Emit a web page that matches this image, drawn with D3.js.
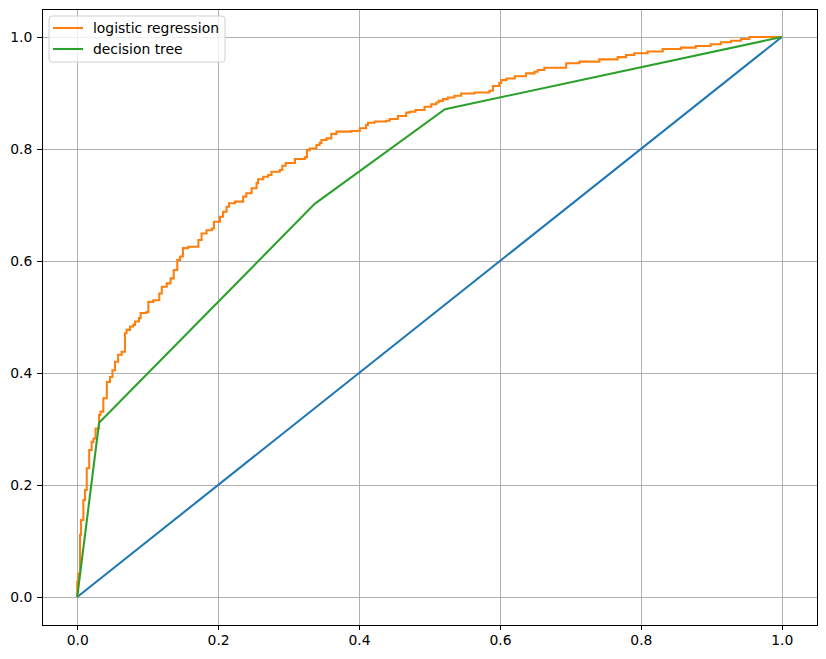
<!DOCTYPE html>
<html>
<head>
<meta charset="utf-8">
<script src="https://cdn.jsdelivr.net/npm/d3@7"></script>
<style>
  body { margin: 0; background: #fff; }
  svg { display: block; font-family: "DejaVu Sans", sans-serif; }
</style>
</head>
<body>
<div id="chart"></div>
<script>
// roc points (tops of each vertical step)
var lrFpr = [0, 0, 0.0016, 0.004, 0.0054, 0.0087, 0.011, 0.0135, 0.017, 0.0205, 0.023, 0.026, 0.031, 0.033, 0.037,
  0.042, 0.0465, 0.05, 0.0536, 0.058, 0.063, 0.0678, 0.070, 0.075, 0.0795, 0.082, 0.0876, 0.090, 0.0985, 0.101,
  0.108, 0.1165, 0.12, 0.127, 0.1325, 0.137, 0.142, 0.146, 0.150, 0.1575, 0.172, 0.1765, 0.1835, 0.191, 0.194,
  0.2025, 0.207, 0.212, 0.2155, 0.2237, 0.2355, 0.240, 0.2475, 0.2545, 0.2567, 0.264, 0.271, 0.2757, 0.2875,
  0.291, 0.296, 0.309, 0.323, 0.326, 0.330, 0.3395, 0.344, 0.3466, 0.3537, 0.3607, 0.368, 0.389, 0.401, 0.410,
  0.4126, 0.422, 0.4387, 0.4434, 0.455, 0.467, 0.4717, 0.480, 0.493, 0.5025, 0.5096, 0.513, 0.519, 0.526, 0.5355,
  0.545, 0.564, 0.585, 0.590, 0.599, 0.6017, 0.609, 0.6135, 0.621, 0.637, 0.649, 0.6536, 0.663, 0.694, 0.7127,
  0.741, 0.767, 0.779, 0.7906, 0.8095, 0.831, 0.857, 0.878, 0.899, 0.9135, 0.928, 0.942, 0.954, 0.970, 1.0];
var lrTpr = [0, 0.027, 0.042, 0.111, 0.1375, 0.173, 0.191, 0.23, 0.2625, 0.277, 0.283, 0.301, 0.325, 0.331, 0.355,
  0.384, 0.393, 0.405, 0.42, 0.4325, 0.438, 0.471, 0.477, 0.483, 0.486, 0.492, 0.498, 0.507, 0.509, 0.527,
  0.530, 0.542, 0.554, 0.560, 0.569, 0.584, 0.602, 0.608, 0.623, 0.6255, 0.6375, 0.649, 0.655, 0.658, 0.670,
  0.679, 0.688, 0.697, 0.703, 0.706, 0.715, 0.721, 0.730, 0.739, 0.746, 0.7505, 0.7535, 0.7595, 0.7625,
  0.770, 0.775, 0.782, 0.785, 0.798, 0.801, 0.807, 0.811, 0.816, 0.819, 0.827, 0.831, 0.832, 0.837, 0.843,
  0.847, 0.849, 0.8505, 0.8536, 0.859, 0.865, 0.8666, 0.8696, 0.8755, 0.880, 0.883, 0.886, 0.889, 0.892, 0.895,
  0.899, 0.901, 0.904, 0.9125, 0.918, 0.923, 0.926, 0.926, 0.930, 0.935, 0.938, 0.941, 0.945, 0.953, 0.956,
  0.960, 0.964, 0.968, 0.971, 0.974, 0.9786, 0.981, 0.984, 0.987, 0.9905, 0.9934, 0.9964, 1.0, 1.0];
var dtFpr = [0, 0.031, 0.337, 0.522, 1];
var dtTpr = [0, 0.311, 0.702, 0.871, 1];
var diagFpr = [0, 1];
var diagTpr = [0, 1];
var tickVals = [0, 0.2, 0.4, 0.6, 0.8, 1.0];
var legendNames = ["logistic regression", "decision tree"];

var W = 826, H = 659;
var margin = { left: 42, top: 9, width: 775, height: 616 };

var svg = d3.select("#chart").append("svg")
  .attr("width", W).attr("height", H);

var g = svg.append("g")
  .attr("transform", `translate(${margin.left},${margin.top})`);

var x = d3.scaleLinear().domain([-0.05, 1.05]).range([0, margin.width]);
var y = d3.scaleLinear().domain([-0.05, 1.05]).range([margin.height, 0]);

// grid, snapped to pixels like matplotlib
var snap = v => Math.round(v) + 0.5;
g.append("g").selectAll("line").data(tickVals).enter().append("line")
  .attr("x1", d => snap(x(d))).attr("x2", d => snap(x(d)))
  .attr("y1", 0).attr("y2", margin.height)
  .attr("stroke", "#b0b0b0").attr("stroke-width", 1);
g.append("g").selectAll("line").data(tickVals).enter().append("line")
  .attr("y1", d => snap(y(d))).attr("y2", d => snap(y(d)))
  .attr("x1", 0).attr("x2", margin.width)
  .attr("stroke", "#b0b0b0").attr("stroke-width", 1);

var zip = (a, b) => a.map((v, i) => [v, b[i]]);
var line = d3.line().x(d => x(d[0])).y(d => y(d[1]));
var stepLine = d3.line().x(d => x(d[0])).y(d => y(d[1])).curve(d3.curveStepAfter);

var clip = g.append("clipPath").attr("id", "clip").append("rect")
  .attr("width", margin.width).attr("height", margin.height);
var plot = g.append("g").attr("clip-path", "url(#clip)");

plot.append("path").attr("d", line(zip(diagFpr, diagTpr)))
  .attr("fill", "none").attr("stroke", "#1f77b4").attr("stroke-width", 2.08);
plot.append("path").attr("d", stepLine(zip(lrFpr, lrTpr)))
  .attr("fill", "none").attr("stroke", "#ff7f0e").attr("stroke-width", 2.08)
  .attr("stroke-linejoin", "miter");
plot.append("path").attr("d", line(zip(dtFpr, dtTpr)))
  .attr("fill", "none").attr("stroke", "#2ca02c").attr("stroke-width", 2.08);

// axes
var xAxis = d3.axisBottom(x).tickValues(tickVals).tickFormat(d3.format(".1f"))
  .tickSizeInner(4.86).tickSizeOuter(0).tickPadding(4.86);
var yAxis = d3.axisLeft(y).tickValues(tickVals).tickFormat(d3.format(".1f"))
  .tickSizeInner(4.86).tickSizeOuter(0).tickPadding(4.86);

var gx = g.append("g").attr("transform", `translate(0,${margin.height})`).call(xAxis);
var gy = g.append("g").call(yAxis);
[gx, gy].forEach(a => {
  a.select(".domain").remove();
  a.selectAll(".tick line").attr("stroke", "#000").attr("stroke-width", 1)
    .attr("shape-rendering", "crispEdges");
  a.selectAll(".tick text").attr("fill", "#000")
    .style("font-size", "13.9px").style("font-family", "DejaVu Sans");
});

// frame
g.append("rect").attr("x", 0.5).attr("y", 0.5)
  .attr("width", margin.width).attr("height", margin.height)
  .attr("fill", "none").attr("stroke", "#000").attr("stroke-width", 1);

// legend
var leg = g.append("g").attr("transform", "translate(7,7)");
leg.append("rect").attr("width", 176).attr("height", 46)
  .attr("rx", 3).attr("fill", "#fff").attr("fill-opacity", 0.8)
  .attr("stroke", "#d0d0d0").attr("stroke-width", 1);
var legColors = ["#ff7f0e", "#2ca02c"];
legendNames.forEach((name, i) => {
  var yy = 12 + i * 21;
  leg.append("line").attr("x1", 4).attr("x2", 34).attr("y1", yy).attr("y2", yy)
    .attr("stroke", legColors[i]).attr("stroke-width", 2.08);
  leg.append("text").attr("x", 44).attr("y", yy).attr("dy", "0.35em")
    .style("font-size", "13.9px").attr("fill", "#000").text(name);
});
</script>
</body>
</html>
